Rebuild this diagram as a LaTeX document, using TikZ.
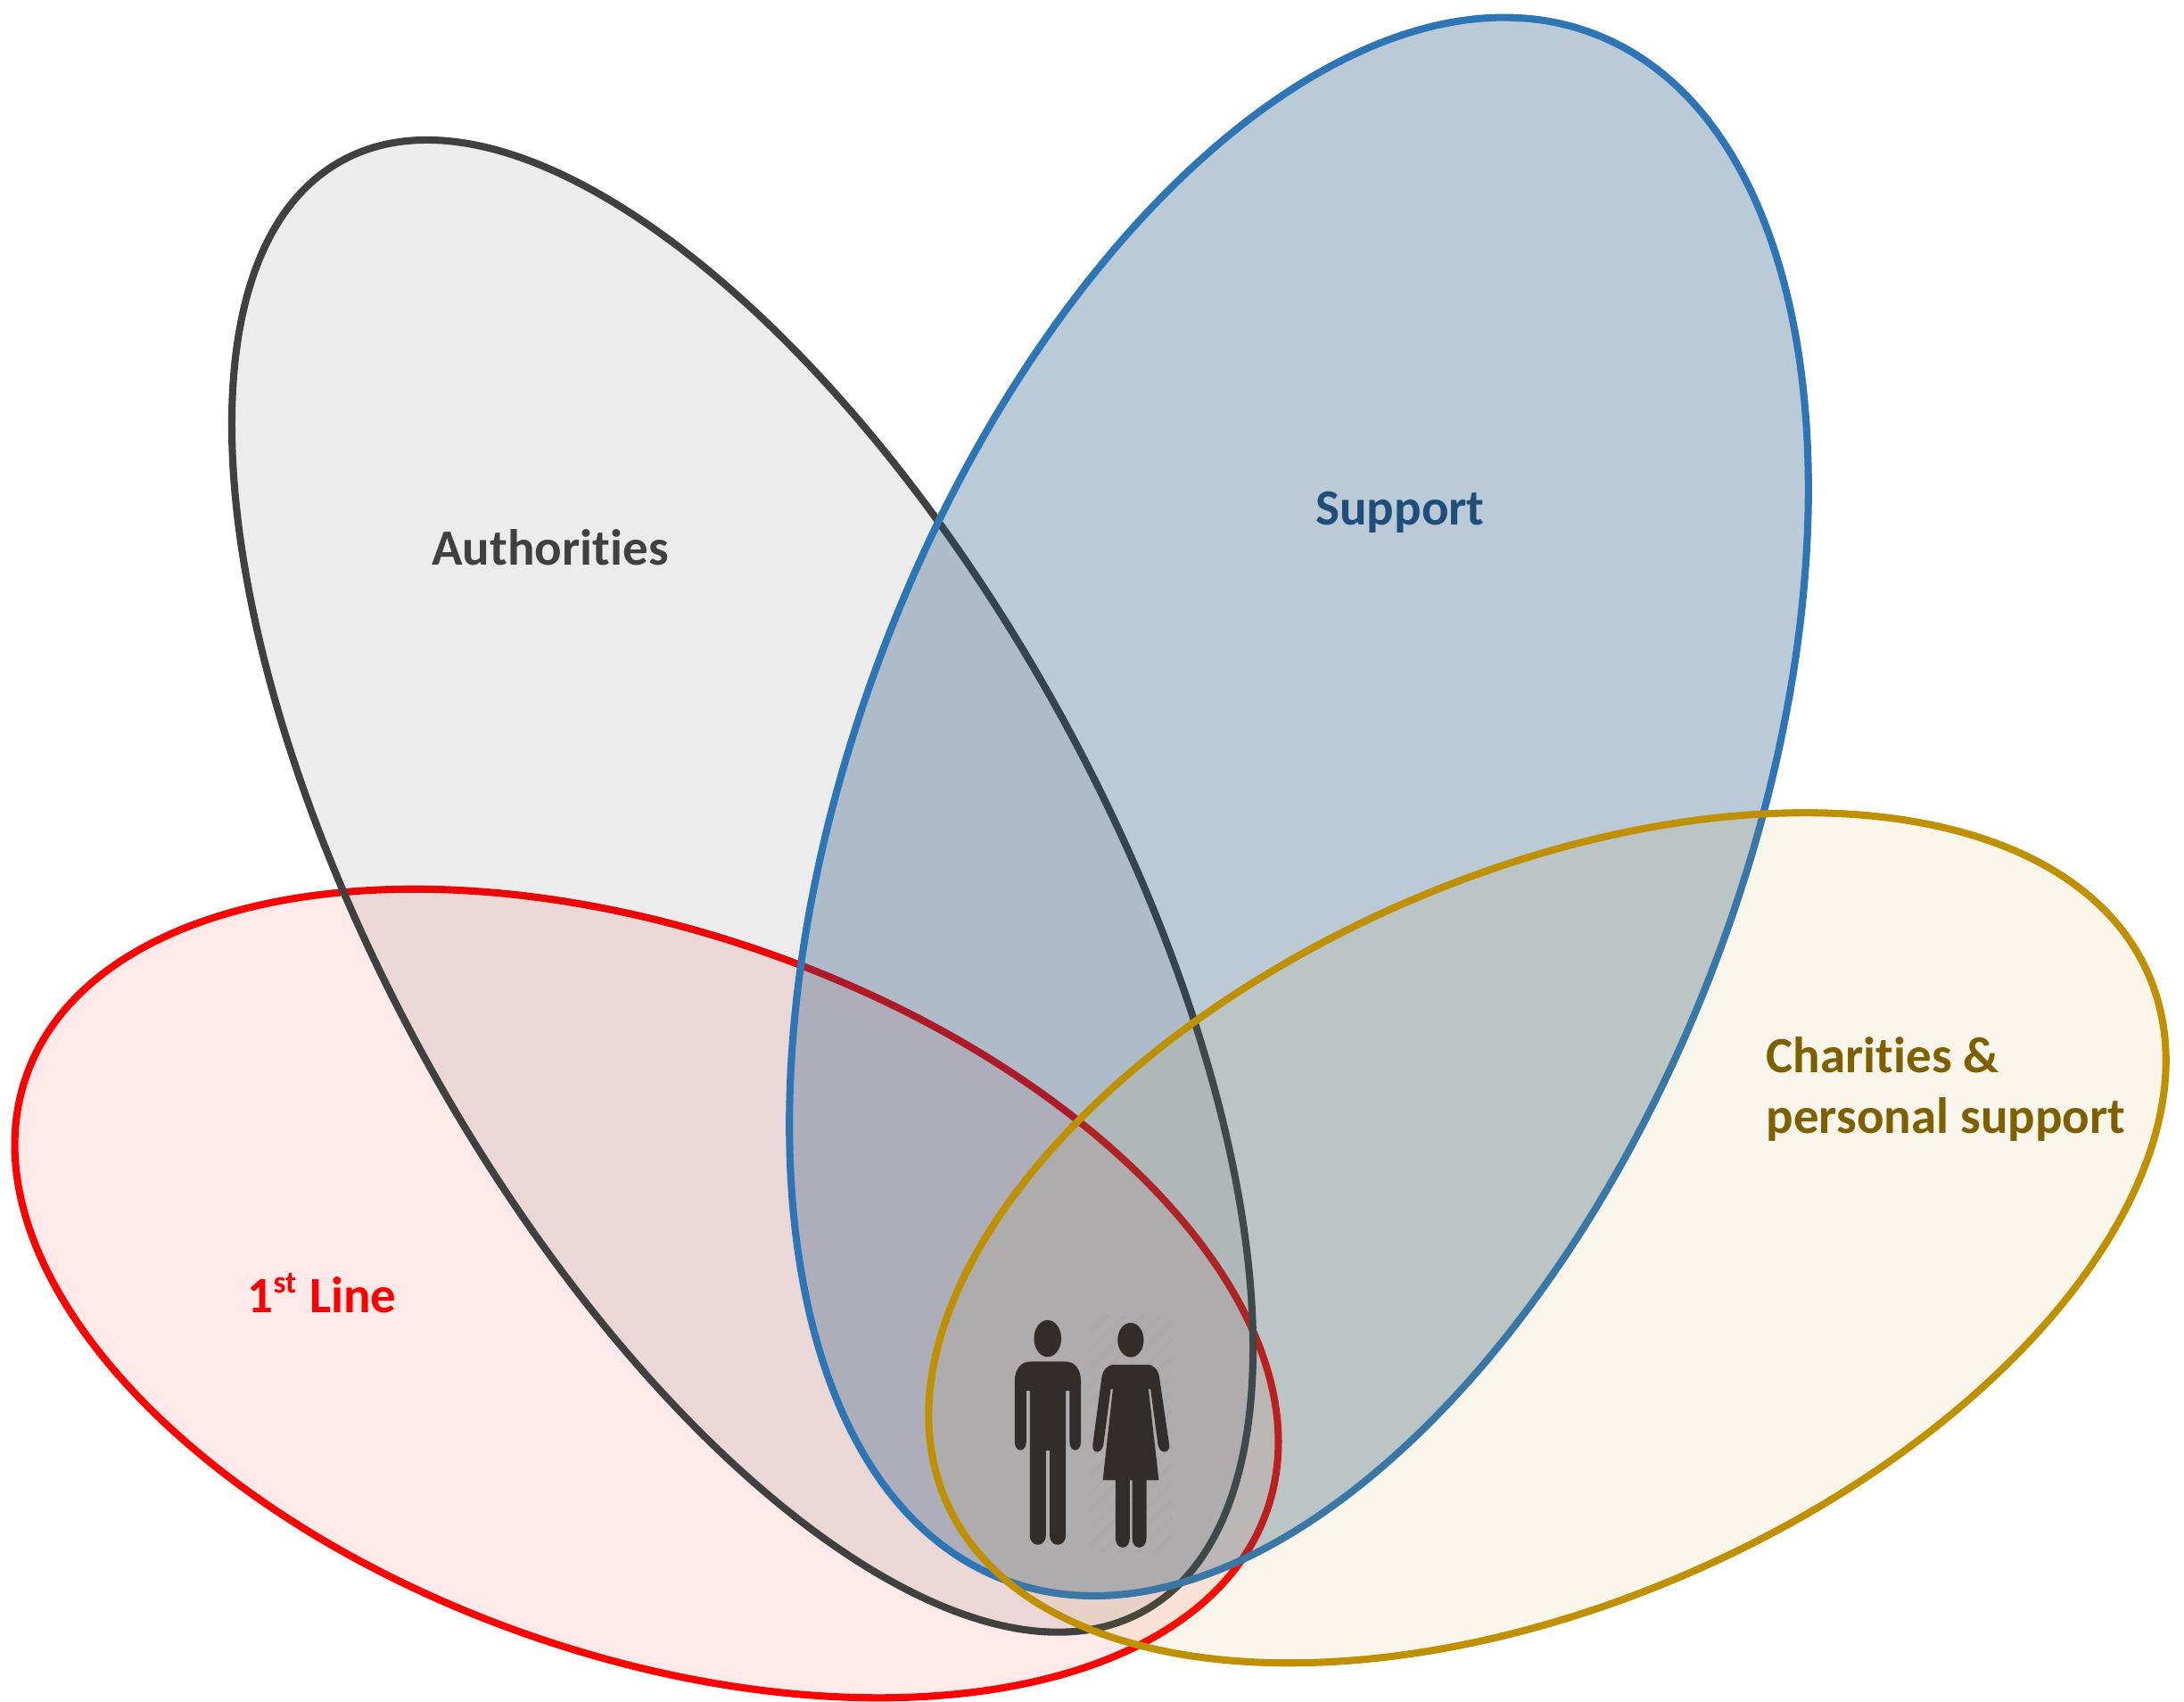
\documentclass[tikz,border=0pt]{standalone}
\usepackage{fontspec}
\setmainfont[Ligatures=NoCommon]{Carlito}
\usetikzlibrary{positioning}
\definecolor{linered}{RGB}{255,0,0}
\definecolor{authgrey}{RGB}{64,64,64}
\definecolor{supportblue}{RGB}{46,117,182}
\definecolor{supportdark}{RGB}{31,78,121}
\definecolor{charitygold}{RGB}{191,144,0}
\definecolor{charitydark}{RGB}{127,96,0}
\definecolor{personfill}{RGB}{50,45,43}

\begin{document}
\begin{tikzpicture}[
  petal/.style = {line width=2.3pt},
  label text/.style = {font=\fontsize{16.2}{19.5}\selectfont\bfseries},
  person/.style = {fill=personfill, draw=none}
]
  \useasboundingbox (0,0) rectangle (24.49,19.07);

  % the four groups
  \draw[petal, linered, fill=linered, fill opacity=0.085, rotate around={-19.3:(7.25,4.57)}] (7.25,4.57) ellipse (7.37 and 4.05);
  \draw[petal, authgrey, fill=authgrey, fill opacity=0.10, rotate around={-61.05:(8.325,9.137)}] (8.325,9.137) ellipse (9.29 and 4.05);
  \draw[petal, supportblue, fill=supportdark, fill opacity=0.30, rotate around={69.1:(14.565,10.027)}] (14.565,10.027) ellipse (9.275 and 4.985);
  \draw[petal, charitygold, fill=charitygold, fill opacity=0.08, rotate around={23.7:(17.35,5.193)}] (17.35,5.193) ellipse (7.36 and 4.08);

  \node[label text, authgrey] (authorities) at (6.17,12.93) {Authorities};
  \node[label text, supportdark] (support) at (15.7,13.33) {Support};
  \node[label text, charitydark, align=left] (charities) at (21.82,6.86) {Charities \&\\personal support};
  \node[label text, linered] (firstline) at (3.61,4.57) {1\textsuperscript{\fontsize{10}{12}\selectfont st} Line};

  % people in the middle
  \begin{scope}[shift={(10.5,4.87)}, x=0.0033333cm, y=-0.0033333cm]
    \begin{scope}
      \clip (515,165) rectangle (795,965);
      \foreach \i in {0,60,...,1080}
        \draw[black, opacity=0.015, line width=1.2pt] (515,165+\i) -- ++(280,-280);
    \end{scope}
    % man
    \fill[person] (375,242) ellipse (46 and 62);
    \fill[person] (315,320) -- (435,320) .. controls (470,320) and (487,350) .. (487,385)
      -- (487,590) .. controls (487,628) and (449,628) .. (449,590) -- (449,418) -- (436,418)
      -- (436,905) .. controls (436,948) and (382,948) .. (382,905) -- (382,620) -- (369,620)
      -- (369,905) .. controls (369,948) and (315,948) .. (315,905) -- (315,418) -- (303,418)
      -- (303,590) .. controls (303,628) and (264,628) .. (264,590) -- (264,385)
      .. controls (264,350) and (282,320) .. (315,320) -- cycle;
    % woman
    \fill[person] (655,247) ellipse (44 and 58);
    \fill[person] (600,330) -- (710,330) .. controls (735,330) and (748,350) .. (752,375)
      -- (785,600) .. controls (788,632) and (752,632) .. (747,600) -- (722,412) -- (715,412)
      -- (750,720) -- (708,720) -- (708,915) .. controls (708,957) and (660,957) .. (660,915)
      -- (660,720) -- (652,720) -- (652,915) .. controls (652,957) and (604,957) .. (604,915)
      -- (604,720) -- (561,720) -- (595,412) -- (588,412) -- (563,600)
      .. controls (558,632) and (523,632) .. (527,600) -- (557,375)
      .. controls (561,350) and (575,330) .. (600,330) -- cycle;
  \end{scope}
\end{tikzpicture}
\end{document}
